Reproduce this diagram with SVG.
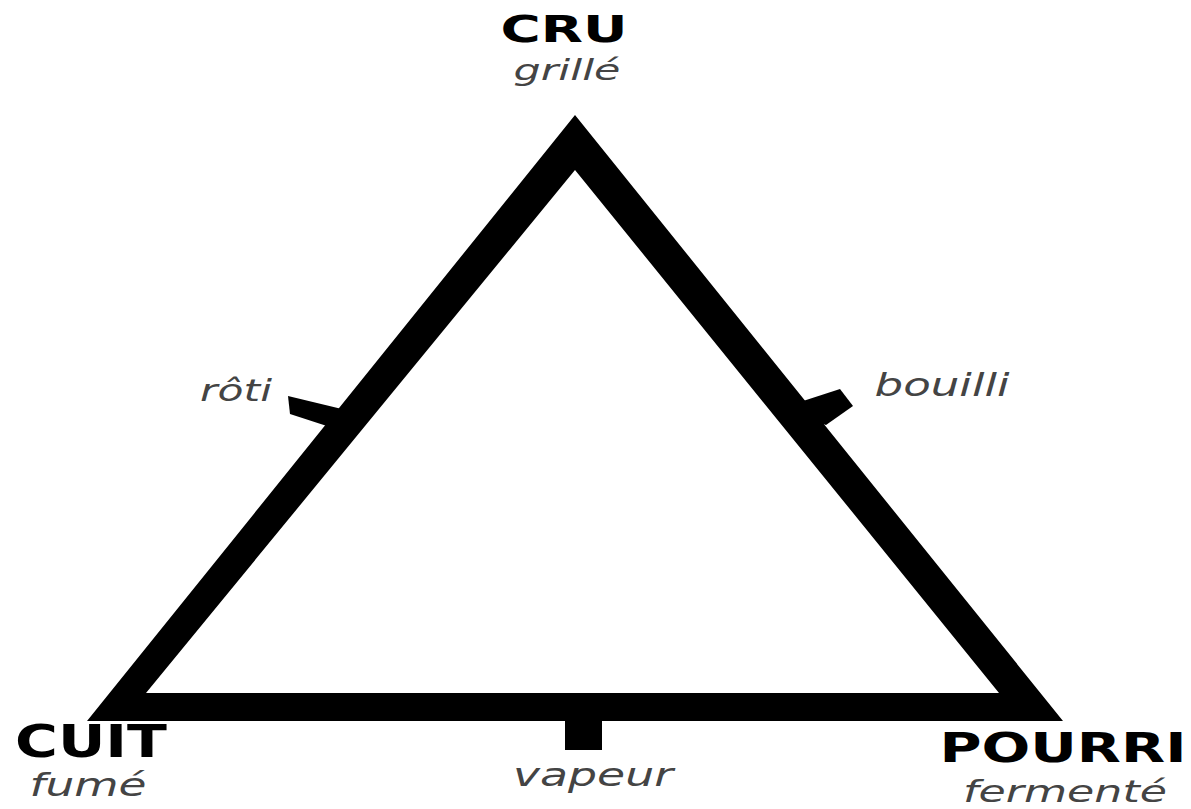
<svg xmlns="http://www.w3.org/2000/svg" width="1191" height="809" viewBox="0 0 1191 809">
<style>
.main{font-family:"DejaVu Sans","Liberation Sans",sans-serif;font-weight:bold;fill:#000;text-anchor:middle}
.sub{font-family:"DejaVu Sans","Liberation Sans",sans-serif;font-style:italic;fill:#444;text-anchor:middle}
.ink{fill:#000}
</style>
<rect width="1191" height="809" fill="#fff"/>
<g id="connectors">
<path class="ink" fill-rule="evenodd" d="M575,115 L87,721 L1063,721 Z M575,170 L146,693 L999,693 Z"/>
<polygon id="tick-roti" class="ink" points="288,396 346,410 333,428 290,414"/>
<polygon id="tick-bouilli" class="ink" points="800,402 840,389 853,406 826,425 812,420"/>
<rect id="tick-vapeur" class="ink" x="565" y="715" width="37" height="35"/>
</g>
<g id="node-cru">
<text class="main" x="564" y="42" font-size="37" textLength="127" lengthAdjust="spacingAndGlyphs">CRU</text>
<text class="sub" x="567" y="80" font-size="28" textLength="107" lengthAdjust="spacingAndGlyphs">grillé</text>
</g>
<g id="node-cuit">
<text class="main" x="91" y="757" font-size="45" textLength="152" lengthAdjust="spacingAndGlyphs">CUIT</text>
<text class="sub" x="88" y="796" font-size="32" textLength="117" lengthAdjust="spacingAndGlyphs">fumé</text>
</g>
<g id="node-pourri">
<text class="main" x="1063" y="762" font-size="40" textLength="247" lengthAdjust="spacingAndGlyphs">POURRI</text>
<text class="sub" x="1065" y="802" font-size="31" textLength="204" lengthAdjust="spacingAndGlyphs">fermenté</text>
</g>
<g id="label-roti">
<text class="sub" x="236" y="401" font-size="30" textLength="72" lengthAdjust="spacingAndGlyphs">rôti</text>
</g>
<g id="label-bouilli">
<text class="sub" x="942" y="396" font-size="32" textLength="135" lengthAdjust="spacingAndGlyphs">bouilli</text>
</g>
<g id="label-vapeur">
<text class="sub" x="593" y="786" font-size="32" textLength="160" lengthAdjust="spacingAndGlyphs">vapeur</text>
</g>
</svg>
